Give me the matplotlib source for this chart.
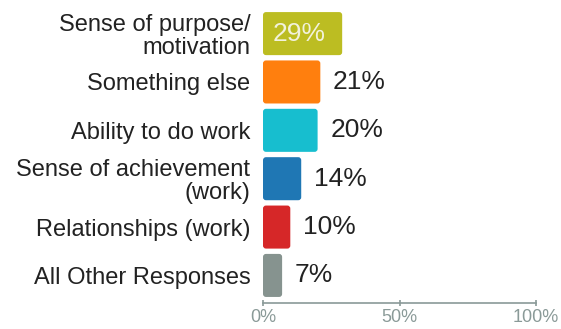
import matplotlib.pyplot as plt
from matplotlib.patches import FancyBboxPatch

labels = ['Sense of purpose/\nmotivation', 'Something else', 'Ability to do work',
          'Sense of achievement\n(work)', 'Relationships (work)', 'All Other Responses']
values = [29, 21, 20, 14, 10, 7]
colors = ['#bcbd22', '#ff7f0e', '#17becf', '#1f77b4', '#d62728', '#86938f']
ticks = [0, 50, 100]
tick_labels = ['0%', '50%', '100%']

plt.rcParams['font.family'] = ['Liberation Sans', 'DejaVu Sans']
axis_col = '#8a9a98'

fig = plt.figure(figsize=(5.61, 3.29), dpi=100)
ax = fig.add_axes([263 / 561, 26 / 329, 273 / 561, 296 / 329])

h = 0.89
for i, (v, c) in enumerate(zip(values, colors)):
    # rounded bars
    p = FancyBboxPatch((0, i - h / 2), v, h, boxstyle='round,pad=0,rounding_size=1.1',
                       mutation_aspect=0.056, fc=c, ec='none')
    ax.add_patch(p)
    if i == 0:
        ax.text(3.7, i, f'{v}%', va='center', ha='left', fontsize=19, color='#f2f2dc')
    else:
        ax.text(v + 4.6, i, f'{v}%', va='center', ha='left', fontsize=19, color='#222222')

ax.set_xlim(0, 100)
ax.set_ylim(5.57, -0.55)
ax.set_yticks(range(len(labels)))
ax.set_yticklabels(labels, fontsize=17, color='#222222', linespacing=1.05)
ax.tick_params(axis='y', length=0, pad=9)
ax.set_xticks(ticks)
ax.set_xticklabels(tick_labels, fontsize=13, color=axis_col)
ax.tick_params(axis='x', direction='inout', length=5, color=axis_col, width=1.2, pad=2)
for s in ['top', 'right', 'left']:
    ax.spines[s].set_visible(False)
ax.spines['bottom'].set_color(axis_col)
ax.spines['bottom'].set_linewidth(1.2)

fig.savefig('out.png', dpi=100)
